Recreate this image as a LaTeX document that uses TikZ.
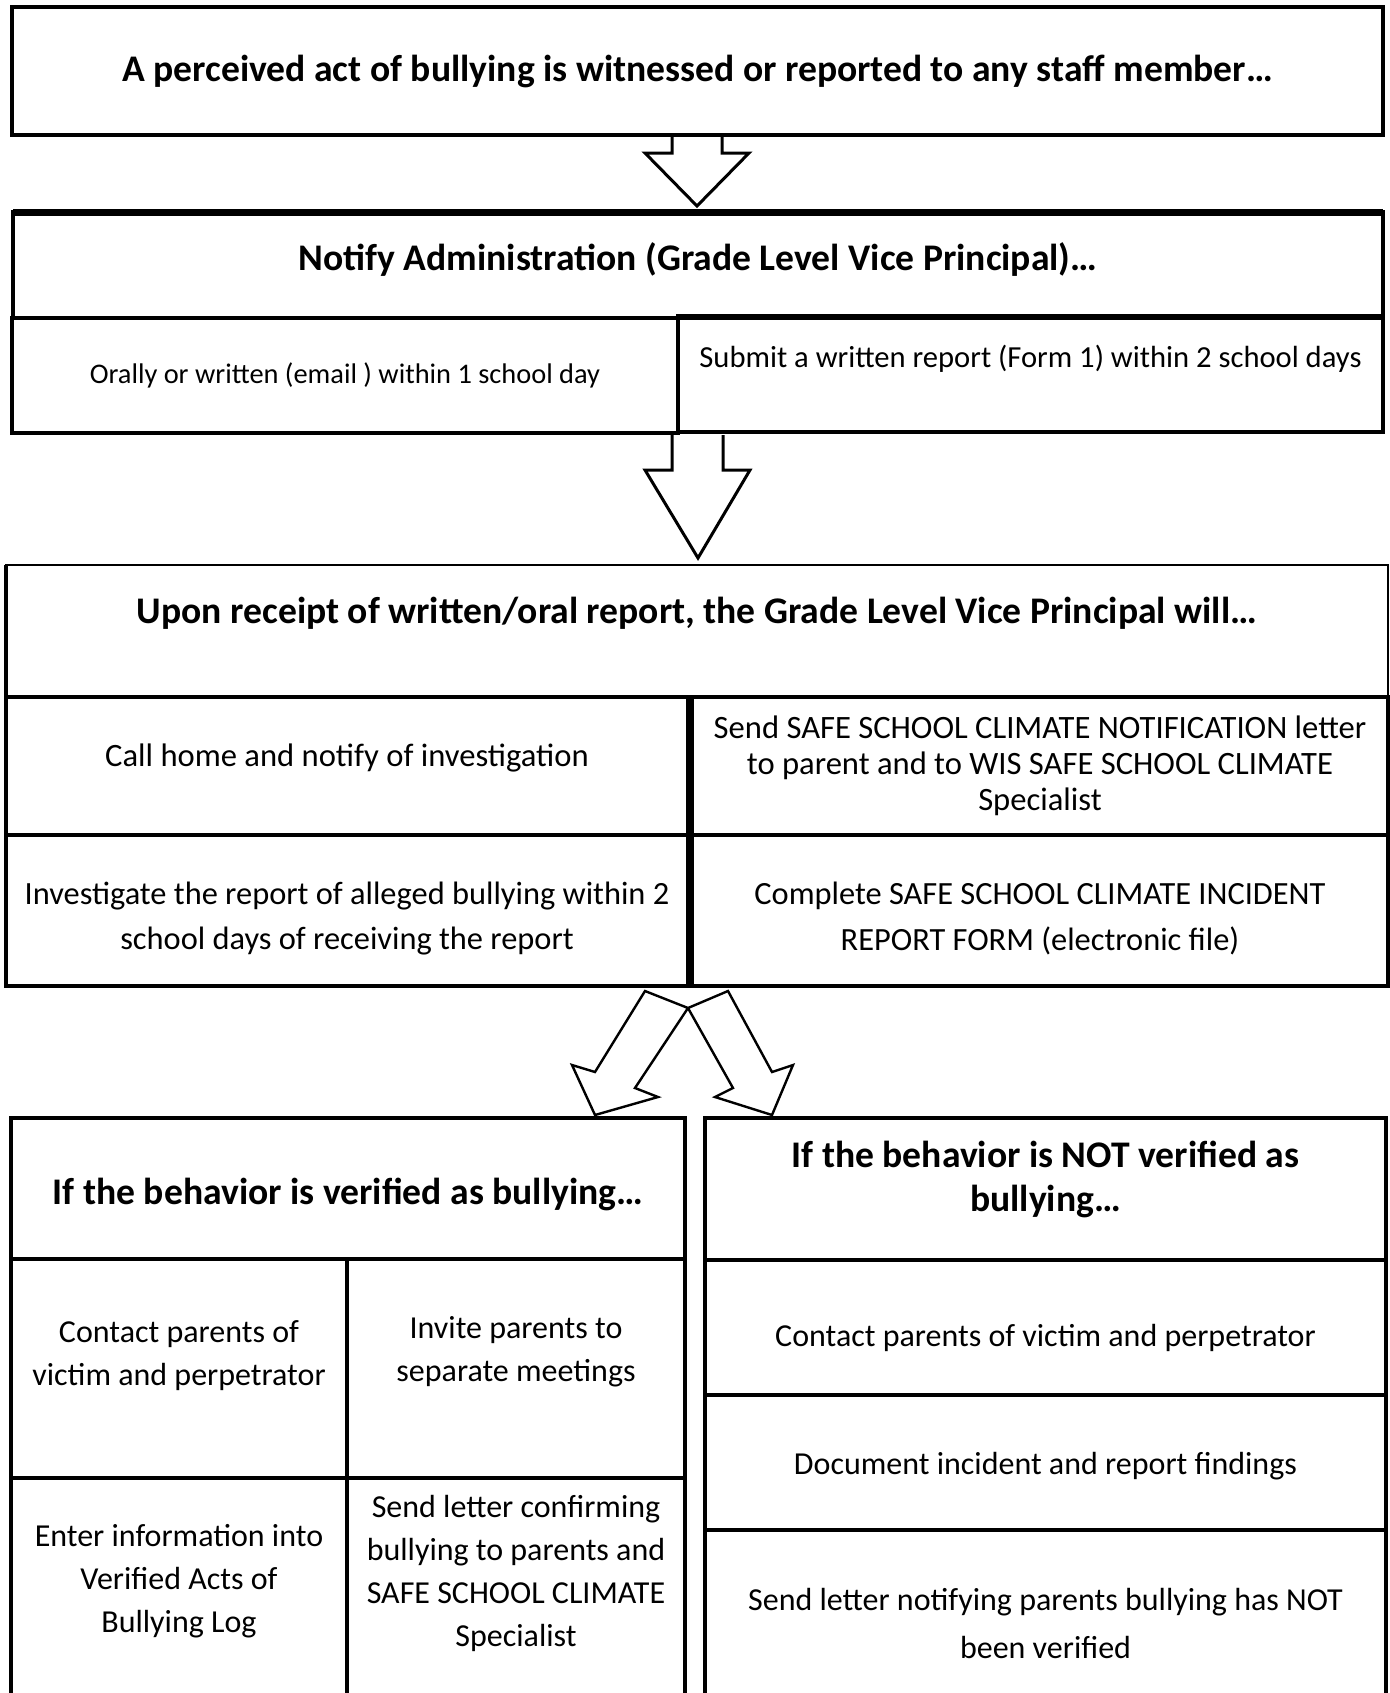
\documentclass[tikz,border=0pt]{standalone}
\usepackage{fontspec}
\setmainfont{Carlito}
\usetikzlibrary{positioning}
\usetikzlibrary{fit}
\usetikzlibrary{calc}
\tikzset{
  every node/.append style={align=center},
  box/.style={draw=black, line width=2pt, inner sep=0pt, outer sep=0pt},
  thickbox/.style={box, line width=2.4pt},
  thinbox/.style={box, line width=1pt},
  head/.style={font=\fontsize{18.8}{22}\selectfont\bfseries},
  body/.style={font=\fontsize{16.3}{18}\selectfont},
  wide/.style={font=\fontsize{16.2}{22.6}\selectfont},
  small/.style={font=\fontsize{14.2}{16}\selectfont},
  roomy/.style={font=\fontsize{16}{21.5}\selectfont}
}
\tikzstyle{bigarrow} = [draw=black, line width=1.5pt, fill=white, line join=miter]
\newcommand\cell[6][]{
  % #1 (optional) - style for the text
  % #2 - style for the box
  % #3 - Tikz name
  % #4 - top left corner
  % #5 - bottom right corner
  % #6 - Body
  \node [#2, fit={(#4) (#5)}] (#3) {};
  \node [#1] at (#3.center) (#3-text) {#6};
}
\newcommand\blockarrow[4]{
  % #1 - top of the stem
  % #2 - length of the stem
  % #3 - half width of the stem
  % #4 - tip
  \draw[bigarrow] ($(#1)+(-#3,0)$) -- ++(0,#2) -- ++(-27,0) -- (#4)
    -- ($(#1)+(#3+27,#2)$) -- ++(-27,0) -- ($(#1)+(#3,0)$);
}

\begin{document}
\begin{tikzpicture}[x=0.5pt, y=-0.5pt]
  \clip (0,0) rectangle (1390,1693);

  % staff member
  \cell[head]{thickbox}{witness}{12,7}{1383,135}{A perceived act of bullying is witnessed or reported to any staff member…}

  % administration
  \cell[head, yshift=3pt]{thickbox}{notify}{13,212}{1383,318}{Notify Administration (Grade Level Vice Principal)…}
  \draw[line width=3.5pt] (notify.north west) -- (notify.north east);
  \cell[small]{thickbox}{oral}{12,318}{678,433}{Orally or written (email ) within 1 school day}
  \cell[small, yshift=7.5pt, font=\fontsize{15.3}{16}\selectfont]{thickbox}{form}{678,316}{1383,432}{Submit a written report (Form 1) within 2 school days}

  \coordinate (a1) at (697,137);
  \blockarrow{a1}{16}{25}{697,206}
  \coordinate (a2) at (697.5,435);
  \blockarrow{a2}{35}{25.5}{698,558}

  % vice principal
  \cell[head, yshift=9pt]{thinbox}{receipt}{6,565}{1388,697}{Upon receipt of written/oral report, the Grade Level Vice Principal will…}
  \draw[line width=1.6pt] (receipt.north west) -- (receipt.south west);
  \cell[body, yshift=4pt]{box}{call}{6,697}{688,835}{Call home and notify of investigation}
  \cell[body]{box}{letter}{692,697}{1388,835}{Send SAFE SCHOOL CLIMATE NOTIFICATION letter\\to parent and to WIS SAFE SCHOOL CLIMATE\\Specialist}
  \cell[wide, yshift=-4pt]{box}{investigate}{6,835}{688,986}{Investigate the report of alleged bullying within 2\\school days of receiving the report}
  \cell[wide, yshift=-4pt]{box}{incident}{692,835}{1388,986}{Complete SAFE SCHOOL CLIMATE INCIDENT\\REPORT FORM (electronic file)}

  % split
  \coordinate (split) at (688,1008);
  \draw[bigarrow, line width=1.2pt] (645,991) -- (595,1072) -- (572,1065) -- (595,1115)
    -- (658,1097) -- (635,1088) -- (split) -- cycle;
  \draw[bigarrow, line width=1.2pt] (728,991) -- (772,1072) -- (793,1065) -- (772,1115)
    -- (715,1097) -- (733,1088) -- (split) -- cycle;

  % verified
  \cell[head, yshift=-3pt]{box}{yes}{11,1118}{685,1259}{If the behavior is verified as bullying…}
  \cell[roomy, yshift=6.5pt]{box}{yes-contact}{11,1259}{347,1478}{Contact parents of\\victim and perpetrator}
  \cell[roomy, yshift=8.5pt]{box}{yes-invite}{347,1259}{685,1478}{Invite parents to\\separate meetings}
  \cell[roomy, yshift=4pt]{box}{yes-log}{11,1478}{347,1700}{Enter information into\\Verified Acts of\\Bullying Log}
  \cell[roomy, yshift=8pt]{box}{yes-letter}{347,1478}{685,1700}{Send letter confirming\\bullying to parents and\\SAFE SCHOOL CLIMATE\\Specialist}

  % not verified
  \cell[head, yshift=5pt]{box}{no}{705,1118}{1386,1260}{If the behavior is NOT verified as\\bullying…}
  \cell[roomy, yshift=-5pt]{box}{no-contact}{705,1260}{1386,1395}{Contact parents of victim and perpetrator}
  \cell[roomy, yshift=-2pt]{box}{no-document}{705,1395}{1386,1530}{Document incident and report findings}
  \cell[roomy, yshift=-4pt, font=\fontsize{16}{24}\selectfont]{box}{no-letter}{705,1530}{1386,1700}{Send letter notifying parents bullying has NOT\\been verified}
\end{tikzpicture}
\end{document}
